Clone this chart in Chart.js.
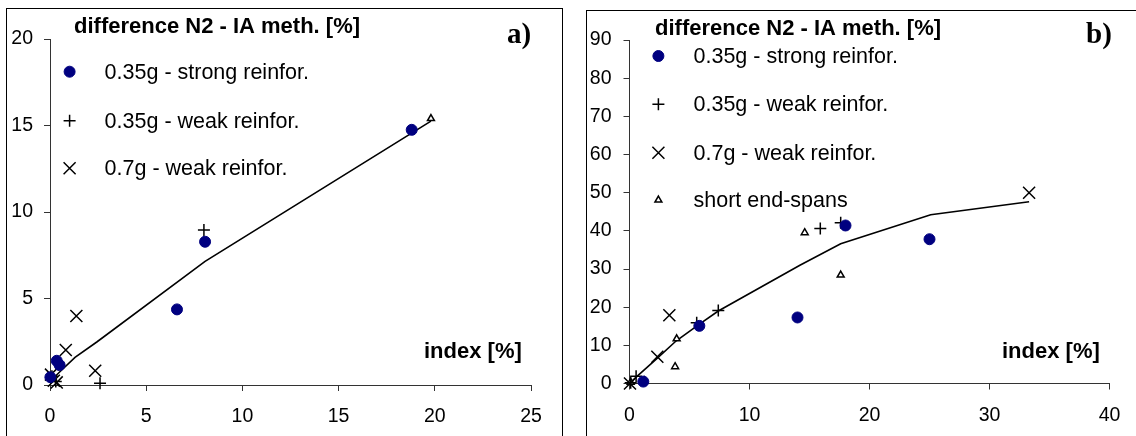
<!DOCTYPE html>
<html>
<head>
<meta charset="utf-8">
<script src="https://cdn.jsdelivr.net/npm/chart.js"></script>
<style>
  html, body { margin: 0; padding: 0; background: #fff; width: 1136px; height: 436px; overflow: hidden; position: relative; }
  .panel { position: absolute; border: 1px solid #000; box-sizing: border-box; }
  canvas { position: absolute; top: 0; }
</style>
</head>
<body>
<div class="panel" style="left:6px;top:8px;width:557px;height:440px"></div>
<div class="panel" style="left:586px;top:10px;width:560px;height:440px"></div>
<canvas id="chartA" width="568" height="436" style="left:0"></canvas>
<canvas id="chartB" width="568" height="436" style="left:568px"></canvas>
<script>
// series labels
const labelStrong = '0.35g - strong reinfor.';
const labelWeak35 = '0.35g - weak reinfor.';
const labelWeak7 = '0.7g - weak reinfor.';
const labelShort = 'short end-spans';
const yTitle = 'difference N2 - IA meth. [%]';
const xTitle = 'index [%]';

// panel a)  [index, difference]
const strongA = [[0.02, 0.45], [0.35, 1.4], [0.5, 1.15], [6.6, 4.37], [8.06, 8.28], [18.8, 14.75]];
const weak35A = [[0.1, 0.5], [0.3, 0.2], [2.6, 0.1], [8.0, 8.96]];
const weak7A = [[0.05, 0.6], [0.2, 0.25], [0.35, 0.15], [0.82, 2.02], [1.37, 3.99], [2.35, 0.82]];
const shortA = [[19.8, 15.4]];
const fitA = [[0, 0.2], [0.5, 0.75], [1.3, 1.6], [2.45, 2.5], [8.06, 7.15], [19.8, 15.25]];
const xTicksA = [0, 5, 10, 15, 20, 25];
const yTicksA = [0, 5, 10, 15, 20];

// panel b)
const strongB = [[1.15, 0.5], [5.82, 15.1], [14.0, 17.3], [18.0, 41.4], [25.0, 37.8]];
const weak35B = [[0.1, 0.2], [0.55, 1.9], [5.6, 15.9], [7.4, 19.1], [15.9, 40.6], [17.6, 42.1]];
const weak7B = [[0.04, 0], [2.32, 7.0], [3.32, 17.9], [33.3, 50.0]];
const shortB = [[0.1, 0.3], [1.25, 0.7], [3.8, 4.4], [3.93, 11.7], [14.6, 39.5], [17.6, 28.4]];
const fitB = [[0, 0], [0.6, 1.8], [2.3, 6.6], [3.9, 11.2], [5.8, 15.5], [7.4, 19.0], [14.2, 31.0], [17.6, 36.6], [25.1, 44.2], [33.3, 47.6]];
const xTicksB = [0, 10, 20, 30, 40];
const yTicksB = [0, 10, 20, 30, 40, 50, 60, 70, 80, 90];

const pts = arr => arr.map(p => ({ x: p[0], y: p[1] }));

function markerSets(strong, weak35, weak7, short, fit) {
  return [
    { label: labelStrong, data: pts(strong), pointStyle: 'circle', pointRadius: 5.5,
      backgroundColor: '#000080', borderColor: '#000080', borderWidth: 1 },
    { label: labelWeak35, data: pts(weak35), pointStyle: 'cross', pointRadius: 6,
      backgroundColor: '#000', borderColor: '#000', borderWidth: 1.5 },
    { label: labelWeak7, data: pts(weak7), pointStyle: 'crossRot', pointRadius: 8.5,
      backgroundColor: '#000', borderColor: '#000', borderWidth: 1.5 },
    { label: labelShort, data: pts(short), pointStyle: 'triangle', pointRadius: 4,
      backgroundColor: '#fff', borderColor: '#000', borderWidth: 1.5 },
    { label: 'fit', data: pts(fit), showLine: true, pointRadius: 0,
      borderColor: '#000', borderWidth: 1.6, backgroundColor: '#000' }
  ].map(d => Object.assign(d, { clip: false }));
}

function axes(xTicks, yTicks, yWidth, xHeight, yPad) {
  const tickFont = { family: '"Liberation Sans", Arial, sans-serif', size: 19.5 };
  return {
    x: {
      type: 'linear', min: xTicks[0], max: xTicks[xTicks.length - 1],
      afterBuildTicks: s => { s.ticks = xTicks.map(v => ({ value: v })); },
      afterFit: s => { s.height = xHeight; },
      grid: { drawOnChartArea: false, tickLength: 6, color: '#333' },
      border: { color: '#333', width: 1 },
      ticks: { font: tickFont, color: '#000', padding: 14, maxRotation: 0 }
    },
    y: {
      type: 'linear', min: yTicks[0], max: yTicks[yTicks.length - 1],
      afterBuildTicks: s => { s.ticks = yTicks.map(v => ({ value: v })); },
      afterFit: s => { s.width = yWidth; },
      grid: { drawOnChartArea: false, tickLength: 6, color: '#333' },
      border: { color: '#333', width: 1 },
      ticks: { font: tickFont, color: '#000', padding: yPad }
    }
  };
}

// titles, panel tag and in-plot legend
const panelText = {
  id: 'panelText',
  afterDraw(chart, args, o) {
    const ctx = chart.ctx;
    ctx.save();
    ctx.fillStyle = '#000';
    ctx.textBaseline = 'alphabetic';
    ctx.textAlign = 'left';
    ctx.font = 'bold 22px "Liberation Sans", Arial, sans-serif';
    ctx.fillText(yTitle, o.titleX, o.titleY);
    ctx.fillText(xTitle, o.xTitleX, o.xTitleY);
    ctx.font = 'bold 29px "Liberation Serif", "Times New Roman", serif';
    ctx.fillText(o.tag, o.tagX, o.tagY);

    ctx.font = '21.5px "Liberation Sans", Arial, sans-serif';
    ctx.textBaseline = 'middle';
    o.rows.forEach((y, i) => {
      const ds = chart.data.datasets[i];
      ctx.fillStyle = ds.backgroundColor;
      ctx.strokeStyle = ds.borderColor;
      ctx.lineWidth = ds.borderWidth;
      Chart.helpers.drawPoint(ctx, {
        pointStyle: ds.pointStyle, radius: ds.pointRadius, rotation: 0, borderWidth: ds.borderWidth
      }, o.markX, y);
      ctx.fillStyle = '#000';
      ctx.fillText(ds.label, o.textX, y + 1);
    });
    ctx.restore();
  }
};

new Chart(document.getElementById('chartA'), {
  type: 'scatter',
  data: { datasets: markerSets(strongA, weak35A, weak7A, shortA, fitA) },
  options: {
    responsive: false, animation: false, events: [],
    layout: { padding: { left: 0, top: 39, right: 37, bottom: 0 } },
    scales: axes(xTicksA, yTicksA, 50, 51, 11),
    plugins: {
      legend: { display: false }, tooltip: { enabled: false },
      panelText: {
        titleX: 74, titleY: 33, xTitleX: 424, xTitleY: 358, tag: 'a)', tagX: 507, tagY: 43,
        markX: 69.6, textX: 104.6, rows: [71.7, 120.7, 168.3]
      }
    }
  },
  plugins: [panelText]
});

new Chart(document.getElementById('chartB'), {
  type: 'scatter',
  data: { datasets: markerSets(strongB, weak35B, weak7B, shortB, fitB) },
  options: {
    responsive: false, animation: false, events: [],
    layout: { padding: { left: 0, top: 40, right: 26.5, bottom: 0 } },
    scales: axes(xTicksB, yTicksB, 61.5, 52.5, 12),
    plugins: {
      legend: { display: false }, tooltip: { enabled: false },
      panelText: {
        titleX: 87, titleY: 35, xTitleX: 434, xTitleY: 358, tag: 'b)', tagX: 518, tagY: 43,
        markX: 90.4, textX: 125.5, rows: [56, 104.3, 152.7, 200]
      }
    }
  },
  plugins: [panelText]
});
</script>
</body>
</html>
